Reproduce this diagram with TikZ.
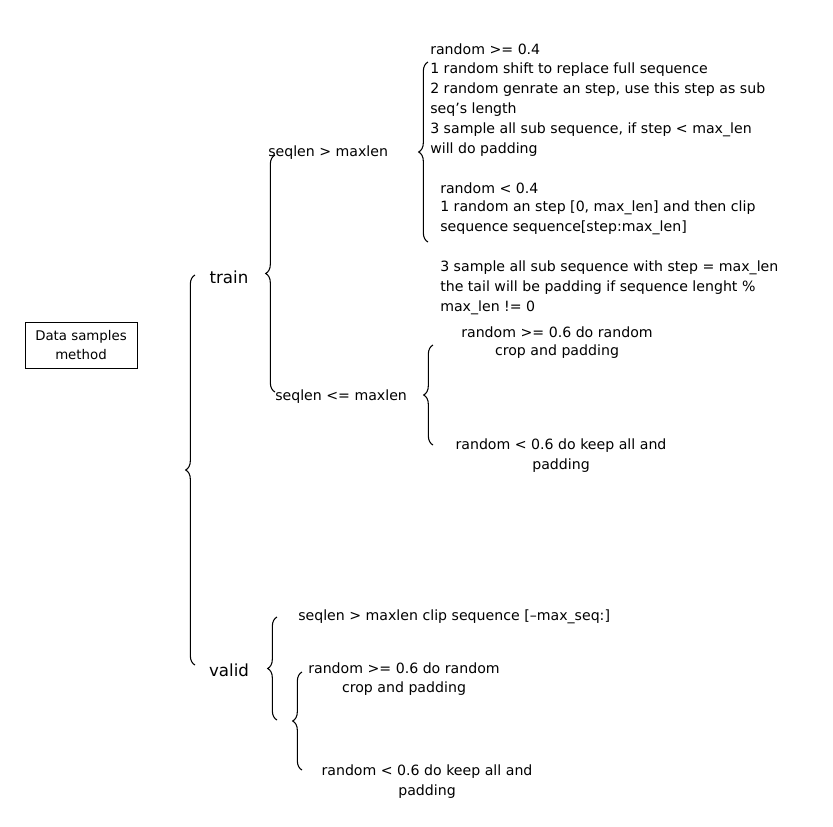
\documentclass[tikz,border=0pt]{standalone}
\usepackage{fontspec}
\setmainfont{DejaVu Sans}
\usetikzlibrary{decorations.pathreplacing}
\tikzset{
  txt/.style={anchor=west, inner sep=0pt, font=\fontsize{10.6}{13}\selectfont},
  ctxt/.style={inner sep=0pt, font=\fontsize{10.6}{13}\selectfont, align=center},
  brc/.style={decorate, decoration={brace, mirror, amplitude=7pt}, line width=0.8pt},
}
\begin{document}
\begin{tikzpicture}[x=0.75pt,y=-0.75pt]
    \useasboundingbox (0,0) rectangle (833,826);

    % Root box
    \node[draw, line width=0.7pt, minimum width=112*0.75pt, minimum height=46*0.75pt, ctxt, font=\fontsize{10}{14}\selectfont] (root) at (81,345) {Data samples\\method};

    % Main levels
    \node[ctxt, font=\fontsize{12.5}{15}\selectfont] (train) at (229,277) {train};
    \node[ctxt, font=\fontsize{12.5}{15}\selectfont] (valid) at (229,670) {valid};
    \draw[brc] (195,275) coordinate (b0t) -- (195,665) coordinate (b0b);

    % train branch
    \node[txt] (gt) at (268,153) {seqlen > maxlen};
    \node[txt] (le) at (275,397) {seqlen <= maxlen};
    \draw[brc] (275,155) coordinate (b1t) -- (275,392) coordinate (b1b);

    % seqlen > maxlen
    \node[txt] (a0) at (430,49) {random >= 0.4};
    \node[txt] (a1) at (430,70) {1 random shift to replace full sequence};
    \node[txt] (a2) at (430,90) {2 random genrate an step, use this step as sub};
    \node[txt] (a3) at (430,110) {seq's length};
    \node[txt] (a4) at (430,130) {3 sample all sub sequence, if step < max\_len};
    \node[txt] (a5) at (430,150) {will do padding};
    \node[txt] (c0) at (440,188) {random < 0.4};
    \node[txt] (c1) at (440,208) {1 random an step [0, max\_len] and then clip};
    \node[txt] (c2) at (440,228) {sequence sequence[step:max\_len]};
    \node[txt] (d0) at (440,268) {3 sample all sub sequence with step = max\_len};
    \node[txt] (d1) at (440,288) {the tail will be padding if sequence lenght \%};
    \node[txt] (d2) at (440,308) {max\_len != 0};
    \draw[brc] (428,62) coordinate (b2t) -- (428,242) coordinate (b2b);

    % seqlen <= maxlen
    \node[ctxt] (e0) at (557,332) {random >= 0.6 do random};
    \node[ctxt] (e1) at (557,352) {crop and padding};
    \node[ctxt] (f0) at (561,446) {random < 0.6 do keep all and};
    \node[ctxt] (f1) at (561,466) {padding};
    \draw[brc] (433,345) coordinate (b3t) -- (433,445) coordinate (b3b);

    % valid branch
    \node[txt] (v0) at (298,617) {seqlen > maxlen clip sequence [--max\_seq:]};
    \draw[brc] (277,617) coordinate (b4t) -- (277,720) coordinate (b4b);
    \node[ctxt] (g0) at (404,668) {random >= 0.6 do random};
    \node[ctxt] (g1) at (404,689) {crop and padding};
    \node[ctxt] (h0) at (427,772) {random < 0.6 do keep all and};
    \node[ctxt] (h1) at (427,792) {padding};
    \draw[brc] (302,672) coordinate (b5t) -- (302,770) coordinate (b5b);
\end{tikzpicture}
\end{document}
